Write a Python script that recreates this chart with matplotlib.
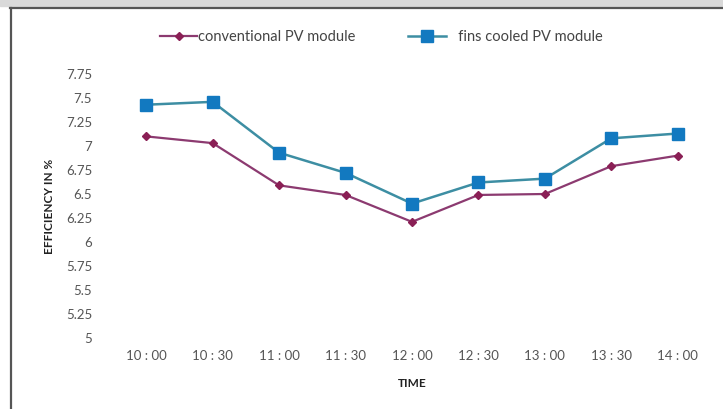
import matplotlib.pyplot as plt
from matplotlib.lines import Line2D
from matplotlib.patches import Rectangle

times = ['10 : 00', '10 : 30', '11 : 00', '11 : 30', '12 : 00',
         '12 : 30', '13 : 00', '13 : 30', '14 : 00']
conventional = [7.10, 7.03, 6.59, 6.49, 6.21, 6.49, 6.50, 6.79, 6.90]
fins_cooled = [7.43, 7.46, 6.93, 6.72, 6.40, 6.62, 6.66, 7.08, 7.13]
y_ticks = [5, 5.25, 5.5, 5.75, 6, 6.25, 6.5, 6.75, 7, 7.25, 7.5, 7.75]
y_labels = ['5', '5.25', '5.5', '5.75', '6', '6.25', '6.5', '6.75', '7', '7.25', '7.5', '7.75']

plt.rcParams['font.family'] = ['Lato', 'DejaVu Sans']

W, H = 723, 409
fig = plt.figure(figsize=(W / 100, H / 100), dpi=100)
ax = fig.add_axes([113 / W, 1 - 338 / H, (711 - 113) / W, (338 - 74) / H])

x = range(len(times))
ax.plot(x, fins_cooled, color='#3d8ea3', linewidth=1.8, marker='s',
        markersize=9, markerfacecolor='#1279c0', markeredgecolor='#1279c0',
        label='fins cooled PV module', zorder=3)
ax.plot(x, conventional, color='#8c3a70', linewidth=1.6, marker='D',
        markersize=4, markerfacecolor='#8a1f55', markeredgecolor='#8a1f55',
        label='conventional PV module', zorder=3)

ax.set_xlim(-0.5, len(times) - 0.5)
ax.set_ylim(5, 7.75)
ax.set_xticks(list(x))
ax.set_xticklabels(times)
ax.set_yticks(y_ticks)
ax.set_yticklabels(y_labels)
ax.tick_params(length=0, labelsize=9.5, colors='#555555')
ax.tick_params(axis='y', pad=15)
ax.tick_params(axis='x', pad=9)
for s in ax.spines.values():
    s.set_visible(False)

ax.set_xlabel('TIME', fontsize=8.5, fontweight='bold', color='#222222', labelpad=11)
ax.set_ylabel('EFFICIENCY IN %', fontsize=8.5, fontweight='bold', color='#222222', labelpad=8)

# legend entries
leg1 = Line2D([0], [0], color='#8c3a70', linewidth=1.6, marker='D', markersize=4,
              markerfacecolor='#8a1f55', markeredgecolor='#8a1f55')
leg2 = Line2D([0], [0], color='#3d8ea3', linewidth=1.8, marker='s', markersize=8,
              markerfacecolor='#1279c0', markeredgecolor='#1279c0')
fig.legend([leg1, leg2], ['conventional PV module', '   fins cooled PV module'],
           loc='center', bbox_to_anchor=(381 / W, 1 - 37 / H), ncol=2,
           frameon=False, fontsize=10.5, handlelength=2.6, handletextpad=0.05,
           columnspacing=3.6, labelcolor='#444444')

# scanned frame: grey band at top, dark rules top and left
fig.patches.append(Rectangle((0, 1 - 6 / H), 1, 6 / H, transform=fig.transFigure,
                             color='#d9d9d9', zorder=0))
fig.lines.append(Line2D([10 / W, 1], [1 - 8 / H, 1 - 8 / H], transform=fig.transFigure,
                        color='#555555', linewidth=1.6))
fig.lines.append(Line2D([11 / W, 11 / W], [0, 1 - 8 / H], transform=fig.transFigure,
                        color='#555555', linewidth=1.6))

fig.savefig('out.png', dpi=100)
